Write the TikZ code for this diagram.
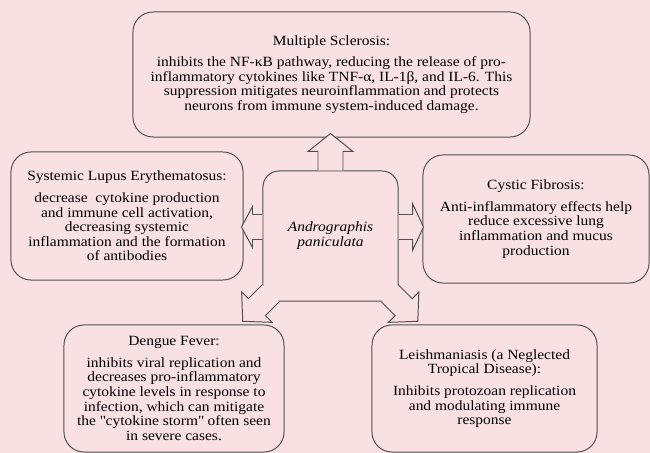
\documentclass[tikz,border=0pt]{standalone}
\usepackage{fontspec}
\setmainfont{Liberation Serif}[FakeStretch=1.1]
\usetikzlibrary{calc}
\definecolor{bgpink}{RGB}{249,224,227}
\definecolor{edge}{RGB}{80,80,80}

\begin{document}
\begin{tikzpicture}[x=0.025cm,y=0.025cm,
  box/.style={draw=edge,line width=0.7pt,rounded corners=0.5cm,align=center,inner sep=0pt,
    font={\fontsize{10}{10.4}\selectfont\setlength{\lineskiplimit}{-5pt}}},
  hub/.style={box,rounded corners=0.4cm,font={\fontsize{10}{10.6}\selectfont\itshape}},
  fat/.style={draw=edge,fill=bgpink,line width=0.7pt,line join=miter}]
  % page: 650 x 453 units, one unit per pixel of the figure
  \useasboundingbox (0,0) rectangle (650,453);
  \fill[bgpink] (0,0) rectangle (650,453);
  % the plant in the middle
  \node[hub,minimum width=3.375cm,minimum height=3.25cm] (ap) at (330.5,217) {Andrographis\\paniculata};
  % the five diseases
  \node[box,minimum width=9.925cm,minimum height=3.125cm] (ms) at (331.5,378.5)
    {Multiple Sclerosis:\\[5pt]
     inhibits the NF-κB pathway, reducing the release of pro-\\
     inflammatory cytokines like TNF-α, IL-1β, and IL-6. This\\
     suppression mitigates neuroinflammation and protects\\
     neurons from immune system-induced damage.};
  \node[box,minimum width=5.8cm,minimum height=3.2cm] (sle) at (127,237)
    {Systemic Lupus Erythematosus:\\[5pt]
     decrease\ \ cytokine production\\
     and immune cell activation,\\
     decreasing systemic\\
     inflammation and the formation\\
     of antibodies};
  \node[box,minimum width=5.65cm,minimum height=3.2cm] (cf) at (536,234)
    {Cystic Fibrosis:\\[5pt]
     Anti-inflammatory effects help\\
     reduce excessive lung\\
     inflammation and mucus\\
     production};
  \node[box,minimum width=5.5cm,minimum height=3.175cm] (df) at (174,64.5)
    {Dengue Fever:\\[5pt]
     inhibits viral replication and\\
     decreases pro-inflammatory\\
     cytokine levels in response to\\
     infection, which can mitigate\\
     the \textquotedbl cytokine storm\textquotedbl{} often seen\\
     in severe cases.};
  \node[box,minimum width=5.625cm,minimum height=3.175cm] (lei) at (484.5,64.5)
    {Leishmaniasis (a Neglected\\
     Tropical Disease):\\[5pt]
     Inhibits protozoan replication\\
     and modulating immune\\
     response};
  % fat arrows out of the hub: start / direction / length / head length / head and shaft half widths
  % (open at the tail; the two corner ones cover the hub's rounded corners)
  \foreach \from/\ang/\len/\hl/\hw/\sw in {
      {(ap.north)}/90/37/18/22.5/12.5,
      {($(ap.west)+(0,9)$)}/180/21/11/20.5/12.5,
      {($(ap.east)+(0,9)$)}/0/25/11/23.5/12.5,
      {($(ap.south west)+(8.5,8.5)$)}/225/40/20/21.5/12,
      {($(ap.south east)+(-9,8.5)$)}/315/40/20/21.5/12}
    \draw[fat,shift={\from},rotate=\ang] (0,-\sw) -- ({\len-\hl},-\sw) -- ({\len-\hl},-\hw)
      -- (\len,0) -- ({\len-\hl},\hw) -- ({\len-\hl},\sw) -- (0,\sw);
\end{tikzpicture}
\end{document}
